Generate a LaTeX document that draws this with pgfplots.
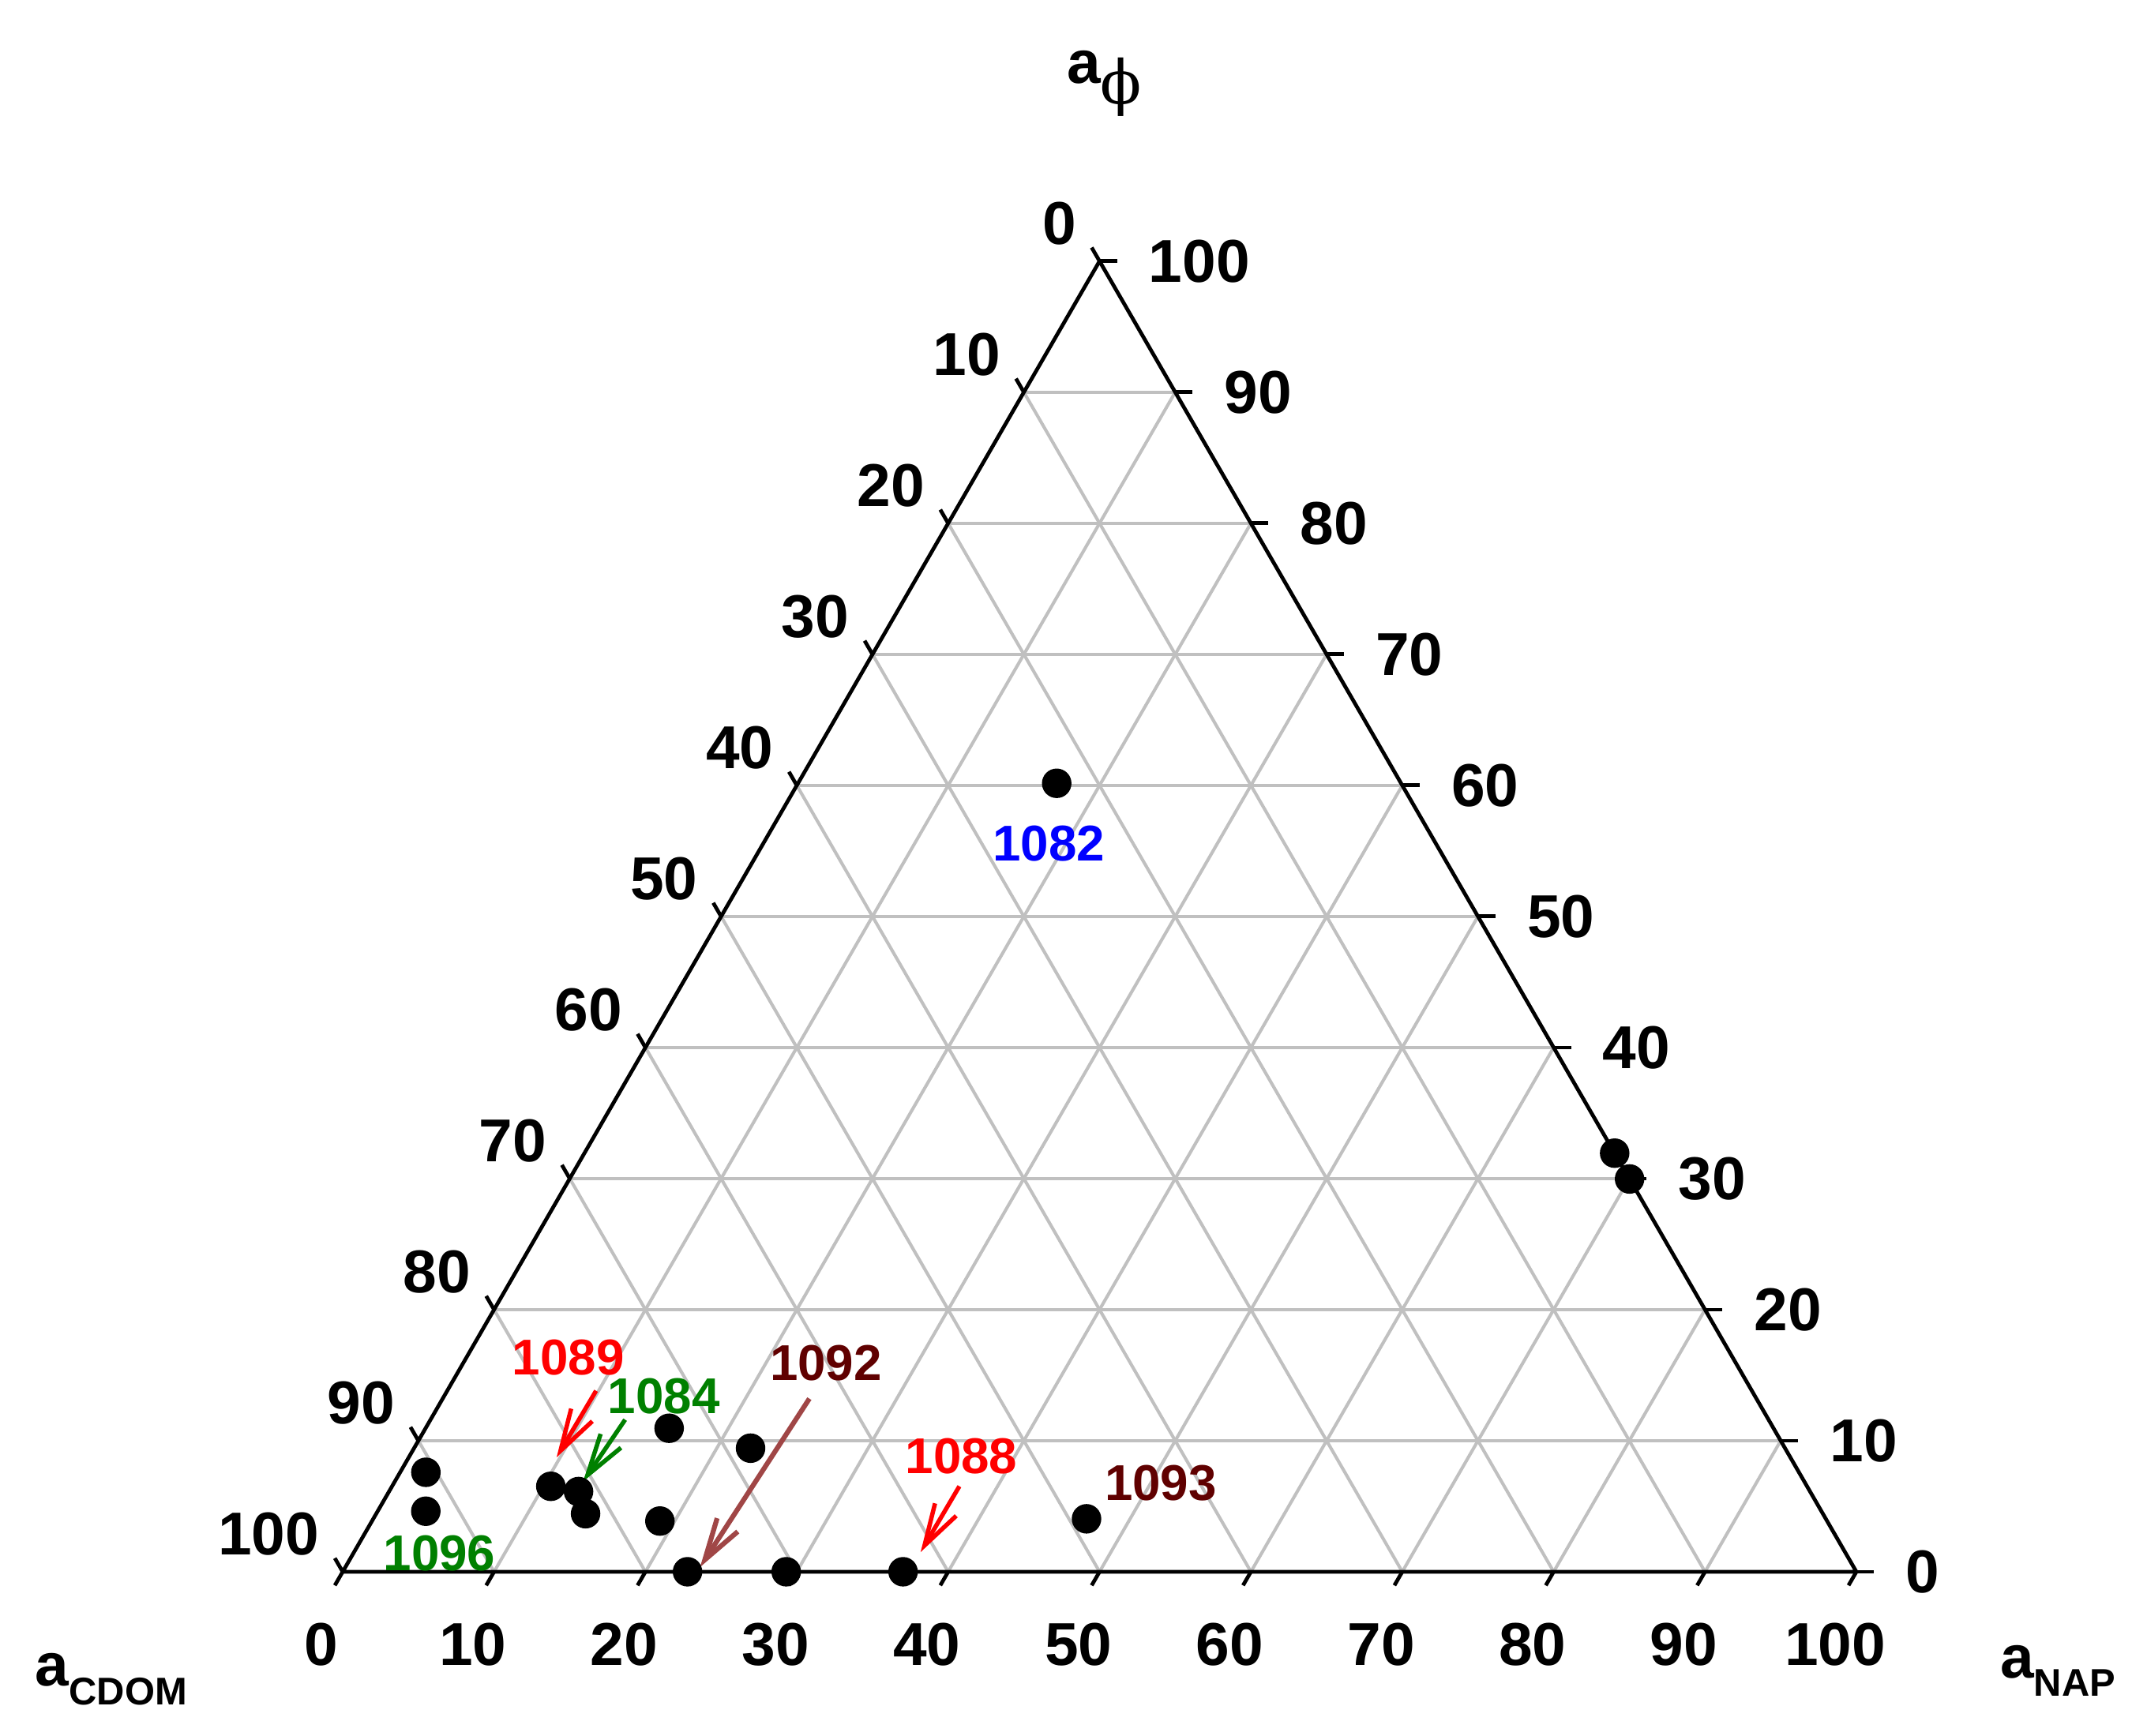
\documentclass[border=0pt]{standalone}
\usepackage{pgfplots}
\pgfplotsset{compat=1.18}
\usepackage{pgfplotstable}
\usepackage{fontspec}
\setmainfont{Liberation Sans}
\newfontfamily\phifont{DejaVu Serif}
\usetikzlibrary{arrows.meta}
\definecolor{gridgray}{RGB}{192,192,192}
\definecolor{darkred}{RGB}{96,0,0}
\definecolor{mygreen}{RGB}{0,128,0}
\definecolor{myblue}{RGB}{0,0,255}
\definecolor{myred}{RGB}{255,0,0}
\definecolor{hatch}{RGB}{160,70,70}
\pgfplotsset{gl/.style={color=gridgray, line width=0.85pt, mark=none, forget plot}}
\tikzset{
  tk/.style={black, line width=1pt},
  lbl/.style={inner sep=0pt, font=\fontsize{16}{19}\selectfont\bfseries},
  ann/.style={inner sep=0pt, font=\fontsize{13.3}{16}\selectfont\bfseries},
  arr/.style={line width=1.15pt, -{Straight Barb[length=11pt,width=6.5pt]}},
}
% ternary compositions (percent): a_CDOM, a_NAP, a_phi
\pgfplotstableread{
cdom nap phi
22.75 17.09 60.16
0.00 68.06 31.94
0.00 70.03 29.97
90.71 1.70 7.59
92.20 3.18 4.62
82.99 10.49 6.52
81.36 12.52 6.12
81.74 13.83 4.43
72.96 16.09 10.95
68.34 22.23 9.43
77.11 19.02 3.87
77.22 22.78 0.00
70.70 29.30 0.00
62.98 37.02 0.00
48.84 47.12 4.04
}\pts
\begin{document}
\begin{tikzpicture}
\begin{axis}[
  scale only axis, width=567.36pt, height=458.84pt,
  xmin=-22.64, xmax=119.20, ymin=-10.85, ymax=103.86,
  hide axis, clip=false,
]
% grid: constant a_phi (horizontal)
\addplot[gl] coordinates {(5,8.6603) (95,8.6603)};
\addplot[gl] coordinates {(10,17.3205) (90,17.3205)};
\addplot[gl] coordinates {(15,25.9808) (85,25.9808)};
\addplot[gl] coordinates {(20,34.6410) (80,34.6410)};
\addplot[gl] coordinates {(25,43.3013) (75,43.3013)};
\addplot[gl] coordinates {(30,51.9615) (70,51.9615)};
\addplot[gl] coordinates {(35,60.6218) (65,60.6218)};
\addplot[gl] coordinates {(40,69.2820) (60,69.2820)};
\addplot[gl] coordinates {(45,77.9423) (55,77.9423)};
% grid: constant a_NAP
\addplot[gl] coordinates {(10,0) (55,77.9423)};
\addplot[gl] coordinates {(20,0) (60,69.2820)};
\addplot[gl] coordinates {(30,0) (65,60.6218)};
\addplot[gl] coordinates {(40,0) (70,51.9615)};
\addplot[gl] coordinates {(50,0) (75,43.3013)};
\addplot[gl] coordinates {(60,0) (80,34.6410)};
\addplot[gl] coordinates {(70,0) (85,25.9808)};
\addplot[gl] coordinates {(80,0) (90,17.3205)};
\addplot[gl] coordinates {(90,0) (95,8.6603)};
% grid: constant a_CDOM
\addplot[gl] coordinates {(5,8.6603) (10,0)};
\addplot[gl] coordinates {(10,17.3205) (20,0)};
\addplot[gl] coordinates {(15,25.9808) (30,0)};
\addplot[gl] coordinates {(20,34.6410) (40,0)};
\addplot[gl] coordinates {(25,43.3013) (50,0)};
\addplot[gl] coordinates {(30,51.9615) (60,0)};
\addplot[gl] coordinates {(35,60.6218) (70,0)};
\addplot[gl] coordinates {(40,69.2820) (80,0)};
\addplot[gl] coordinates {(45,77.9423) (90,0)};
% triangle
\addplot[black, line width=1pt, line join=round, mark=none, forget plot] coordinates {(0,0) (100,0) (50,86.6025) (0,0)};
% ticks and tick labels
\pgfplotsinvokeforeach{0,10,...,100}{
  \draw[tk] (axis cs:#1,0) -- (axis cs:{#1-0.52},-0.90);
  \node[lbl] at (axis cs:{#1-1.4},-4.8) {#1};
  \draw[tk] (axis cs:{100-#1/2},{0.8660254*#1}) -- (axis cs:{100-#1/2+1.15},{0.8660254*#1});
  \node[lbl,anchor=west] at (axis cs:{100-#1/2+3.2},{0.8660254*#1}) {#1};
  \draw[tk] (axis cs:{(100-#1)/2},{0.8660254*(100-#1)}) -- (axis cs:{(100-#1)/2-0.52},{0.8660254*(100-#1)+0.90});
  \node[lbl,anchor=east] at (axis cs:{(100-#1)/2-1.5},{0.8660254*(100-#1)+2.5}) {#1};
}
% data
\addplot[only marks, mark=*, mark size=3.7pt, black] table[x expr=\thisrow{nap}+0.5*\thisrow{phi}, y expr=0.8660254*\thisrow{phi}] {\pts};
% annotations
\node[ann, text=myblue] at (axis cs:46.64,48.11) {1082};
\node[ann, text=mygreen] at (axis cs:6.39,1.23) {1096};
\node[ann, text=mygreen] at (axis cs:21.22,11.62) {1084};
\node[ann, text=myred] at (axis cs:14.90,14.15) {1089};
\node[ann, text=darkred] at (axis cs:31.92,13.80) {1092};
\node[ann, text=myred] at (axis cs:40.87,7.62) {1088};
\node[ann, text=darkred] at (axis cs:54.04,5.88) {1093};
\draw[arr, myred] (axis cs:16.74,11.96) -- (axis cs:14.13,7.56);
\draw[arr, mygreen] (axis cs:18.66,10.05) -- (axis cs:15.88,5.96);
\draw[arr, hatch, line width=1.3pt] (axis cs:30.83,11.44) -- (axis cs:23.61,0.31);
\draw[arr, myred] (axis cs:40.74,5.65) -- (axis cs:38.18,1.30);
% axis titles
\node[anchor=base west, inner sep=0pt] at (axis cs:47.8,98.38) {\fontsize{16}{19}\selectfont\bfseries a\raisebox{-5.5pt}{\phifont\mdseries\fontsize{16}{19}\selectfont ϕ}};
\node[anchor=base west, inner sep=0pt] at (axis cs:-20.35,-7.52) {\fontsize{16}{19}\selectfont\bfseries a\raisebox{-5.1pt}{\fontsize{10.2}{12}\selectfont CDOM}};
\node[anchor=base west, inner sep=0pt] at (axis cs:109.45,-7.0) {\fontsize{16}{19}\selectfont\bfseries a\raisebox{-4.8pt}{\fontsize{10.2}{12}\selectfont NAP}};
\path (rel axis cs:0,0) rectangle (rel axis cs:1,1);
\end{axis}
\end{tikzpicture}
\end{document}
